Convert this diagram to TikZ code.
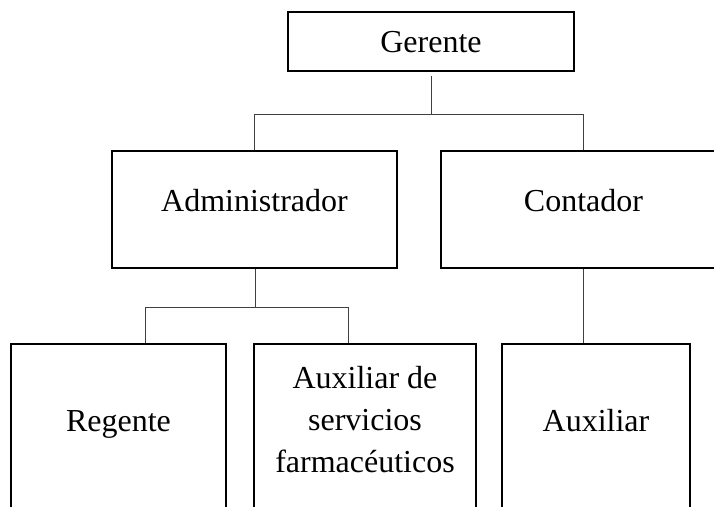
\documentclass[tikz,border=0pt]{standalone}
\usepackage{fontspec}
\setmainfont{Liberation Serif}
\begin{document}
\begin{tikzpicture}[x=1pt,y=-1pt,
  box/.style={draw=black,line width=1.2pt,rectangle,inner sep=0pt},
  conn/.style={draw=black!75,line width=1pt},
  lbl/.style={font=\fontsize{32}{42}\selectfont,inner sep=0pt,align=center}]
\useasboundingbox (0,0) rectangle (714,506);
\clip (0,0) rectangle (714,506);
% boxes
\node[box,minimum width=286pt,minimum height=59pt] (G) at (431,41.5) {};
\node[box,minimum width=285pt,minimum height=117pt] (A) at (254.5,209.5) {};
\node[box,minimum width=285pt,minimum height=117pt] (C) at (583.5,209.5) {};
\node[box,minimum width=215pt,minimum height=200pt] (R) at (118.5,444) {};
\node[box,minimum width=222pt,minimum height=200pt] (S) at (365,444) {};
\node[box,minimum width=188pt,minimum height=200pt] (X) at (596,444) {};
% labels
\node[lbl,anchor=base] (Gt) at (431,52) {Gerente};
\node[lbl,anchor=base] (At) at (254.5,211) {Administrador};
\node[lbl,anchor=base] (Ct) at (583.5,211) {Contador};
\node[lbl,anchor=base] (Rt) at (118.5,431) {Regente};
\node[lbl,anchor=center] (St) at (365,420) {Auxiliar de\\servicios\\farmacéuticos};
\node[lbl,anchor=base] (Xt) at (596,431) {Auxiliar};
% connector bus points
\coordinate (b1) at (431,114);
\coordinate (b2) at (255,307);
% connectors
\draw[conn] ([yshift=-4pt]G.south) -- (G.south |- b1);
\draw[conn] (A.north -| 254,0) -- (254,114) -- (583,114) -- (C.north -| 583,0);
\draw[conn] (A.south -| b2) -- (b2);
\draw[conn] (R.north -| 145,0) -- (145,307) -- (348,307) -- (S.north -| 348,0);
\draw[conn] (C.south -| 583,0) -- (X.north -| 583,0);
\end{tikzpicture}
\end{document}
